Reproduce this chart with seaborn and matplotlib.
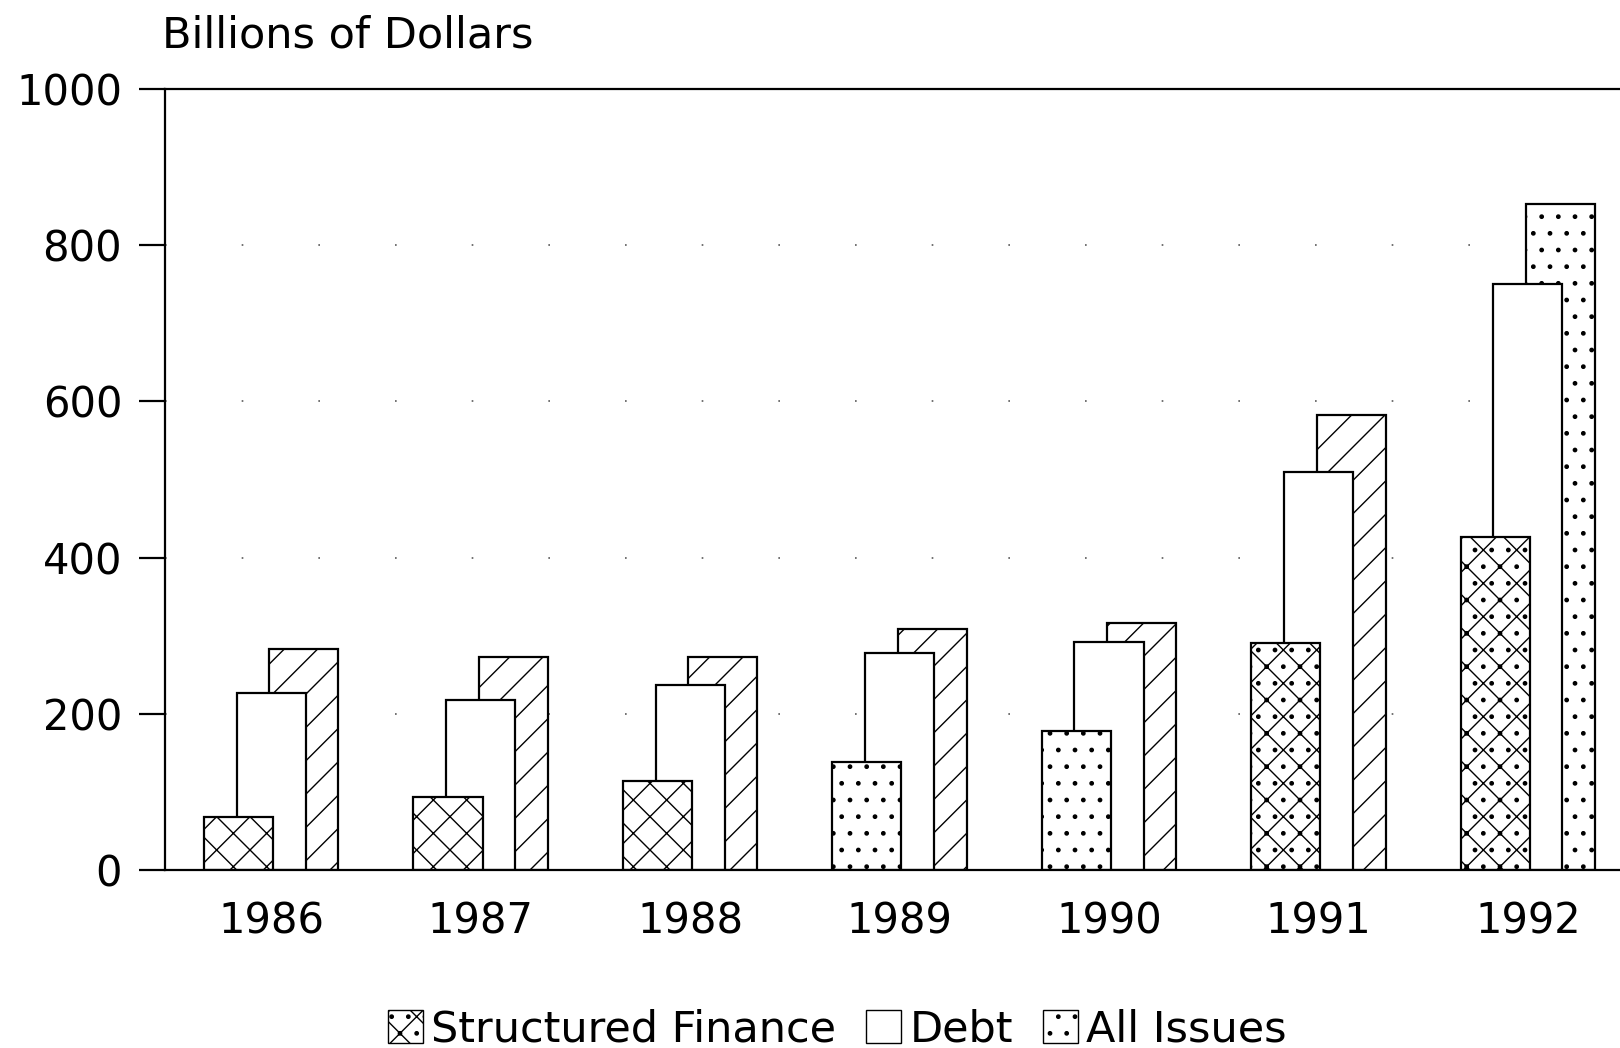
import matplotlib
matplotlib.use("Agg")
import matplotlib.pyplot as plt
from matplotlib.patches import Patch
import seaborn as sns
import pandas as pd

years = [1986, 1987, 1988, 1989, 1990, 1991, 1992]
structured_finance = [68, 93, 114, 138, 178, 291, 426]
debt = [227, 218, 237, 278, 292, 509, 750]
all_issues = [283, 272, 272, 309, 316, 583, 853]
series_names = ["Structured Finance", "Debt", "All Issues"]

# look of the old scanned chart
sf_hatch = ["x", "x", "x", ".", ".", "x.", "x."]
all_hatch = ["/", "/", "/", "/", "/", "/", "."]
bar_w = 0.33
shift = 0.156

sns.set_style("ticks")
plt.rcParams["font.family"] = ["DejaVu Sans"]
plt.rcParams["hatch.linewidth"] = 1.0
plt.rcParams["axes.linewidth"] = 1.6
plt.rcParams["text.color"] = "black"
plt.rcParams["xtick.color"] = "black"
plt.rcParams["ytick.color"] = "black"
plt.rcParams["axes.edgecolor"] = "black"

df = pd.DataFrame({"year": years, "sf": structured_finance,
                   "debt": debt, "all": all_issues})

fig = plt.figure(figsize=(16.2, 10.48), dpi=100)
ax = fig.add_axes([0.102, 0.170, 0.898, 0.745])

# back to front: All Issues, Debt, Structured Finance
layers = [("all", shift, all_hatch), ("debt", 0.0, None), ("sf", -shift, sf_hatch)]
for col, off, hatches in layers:
    n0 = len(ax.patches)
    sns.barplot(x=df["year"] + off, y=df[col], native_scale=True, orient="x",
                width=bar_w, color="white", edgecolor="black", linewidth=1.6,
                errorbar=None, ax=ax)
    for i, p in enumerate(ax.patches[n0:]):
        p.set_facecolor("white")
        if hatches is not None:
            p.set_hatch(hatches[i])

ax.set_xlim(years[0] - 0.506, years[-1] + 0.44)
ax.set_ylim(0, 1000)
ax.set_yticks(range(0, 1001, 200))
ax.set_xticks(years)
ax.set_xticklabels([str(y) for y in years])
ax.set_xlabel("")
ax.set_ylabel("")
ax.tick_params(axis="y", length=19, width=1.6, pad=12, labelsize=30)
ax.tick_params(axis="x", length=0, pad=22, labelsize=30)
ax.spines["right"].set_visible(False)
ax.yaxis.grid(True, linestyle=(0, (1, 45)), color="0.35", linewidth=1.2)
ax.set_axisbelow(True)

fig.text(0.1, 0.966, "Billions of Dollars", fontsize=31, va="center", ha="left")

handles = [Patch(facecolor="white", edgecolor="black", hatch="x."),
           Patch(facecolor="white", edgecolor="black"),
           Patch(facecolor="white", edgecolor="black", hatch=".")]
fig.legend(handles, series_names, loc="center", bbox_to_anchor=(0.517, 0.018),
           ncol=3, frameon=False, fontsize=31, handlelength=0.8,
           handleheight=0.8, handletextpad=0.2, columnspacing=0.7)

fig.savefig("out.png", dpi=100)
